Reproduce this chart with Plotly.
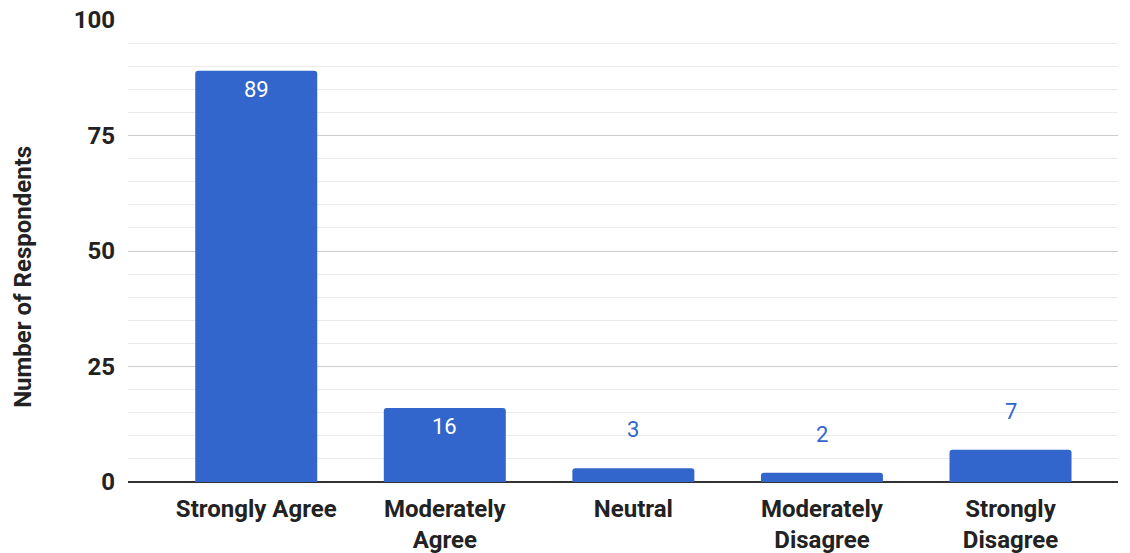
import plotly.graph_objects as go

categories = ["Strongly Agree", "Moderately<br>Agree", "Neutral", "Moderately<br>Disagree", "Strongly<br>Disagree"]
values = [89, 16, 3, 2, 7]
y_ticks = [0, 25, 50, 75, 100]
y_title = "Number of Respondents"

BLUE = "#3366CC"
x = list(range(len(categories)))

fig = go.Figure()
fig.add_trace(go.Bar(
    x=x, y=values, marker=dict(color=BLUE, line=dict(width=0)),
    width=0.647, hoverinfo="y",
))

for xi, v in zip(x, values):
    inside = v >= 10
    fig.add_annotation(
        x=xi, y=v, text=str(v), showarrow=False,
        yanchor="top" if inside else "bottom",
        yshift=-4 if inside else 24,
        font=dict(family="Roboto", size=22, color="white" if inside else BLUE),
    )

fig.add_annotation(
    xref="paper", yref="y domain", x=0, y=0.444, xshift=-105,
    text=y_title, textangle=-90, showarrow=False,
    xanchor="center", yanchor="middle",
    font=dict(family="Roboto", size=24, weight="bold", color="#222"),
)

tickfont = dict(family="Roboto", size=24, weight="bold", color="#222")
fig.update_layout(
    width=1130, height=553,
    margin=dict(l=128, r=12, t=20, b=71),
    plot_bgcolor="white", paper_bgcolor="white",
    barcornerradius=3,
    showlegend=False,
    xaxis=dict(
        tickmode="array", tickvals=x, ticktext=categories,
        range=[-0.68, 4.57], showgrid=False, zeroline=False,
        tickfont=tickfont, automargin=False,
        ticks="", showline=False, ticklabelstandoff=10,
    ),
    yaxis=dict(
        range=[0, 100], tickvals=y_ticks, showgrid=True, gridcolor="#cccccc", gridwidth=1,
        minor=dict(dtick=5, showgrid=True, gridcolor="#ebebeb", gridwidth=1),
        zeroline=True, zerolinecolor="#333333", zerolinewidth=1.5,
        tickfont=tickfont, automargin=False,
        ticklabelstandoff=12,
    ),
)

fig.write_html("out.html")
